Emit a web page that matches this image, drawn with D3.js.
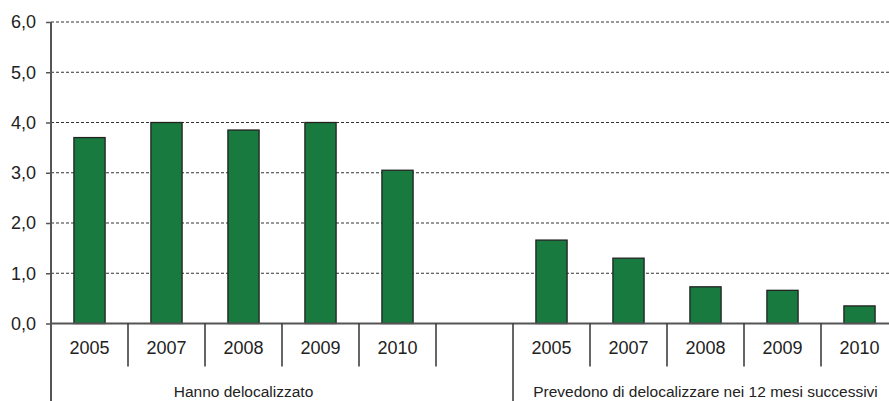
<!DOCTYPE html>
<html><head><meta charset="utf-8">
<script src="https://cdn.jsdelivr.net/npm/d3@7/dist/d3.min.js"></script>
<style>
html,body{margin:0;padding:0;background:#fff;}
svg{display:block;font-family:"Liberation Sans",Arial,sans-serif;}
</style></head>
<body><svg id="c" width="889" height="401"></svg>
<script>
const years = ["2005","2007","2008","2009","2010"];
const groups = ["Hanno delocalizzato","Prevedono di delocalizzare nei 12 mesi successivi"];
const hanno = [3.7, 4.0, 3.85, 4.0, 3.05];
const prevedono = [1.66, 1.30, 0.73, 0.66, 0.35];
const yTicks = [0, 1, 2, 3, 4, 5, 6];

const slots = [];
years.forEach((y,i)=>slots.push({key:"a"+y, year:y, v:hanno[i], g:0}));
slots.push({key:"gap", year:"", v:null, g:-1});
years.forEach((y,i)=>slots.push({key:"b"+y, year:y, v:prevedono[i], g:1}));

const svg = d3.select("#c");
const W = 889, H = 401;
const mLeft = 51, mTop = 22, zeroY = 323.5, slotW = 77;
const FONT = "'Liberation Sans', Arial, sans-serif";
const x = d3.scaleBand().domain(slots.map(d=>d.key)).range([mLeft, mLeft + slotW*slots.length]).padding(0);
const y = d3.scaleLinear().domain([0,6]).range([zeroY, mTop]);

// gridlines
svg.append("g").selectAll("line").data(yTicks.filter(t=>t>0)).join("line")
  .attr("x1", mLeft).attr("x2", W)
  .attr("y1", d=>y(d)).attr("y2", d=>y(d))
  .attr("stroke", "#333").attr("stroke-width", 1).attr("stroke-dasharray", "3,2");

// bars
const bw = x.bandwidth()*0.405;
svg.append("g").selectAll("rect").data(slots.filter(d=>d.v!==null)).join("rect")
  .attr("x", d=>x(d.key)+x.bandwidth()/2-bw/2)
  .attr("width", bw)
  .attr("y", d=>y(d.v))
  .attr("height", d=>y(0)-y(d.v))
  .attr("fill", "#187a3f").attr("stroke", "#222").attr("stroke-width", 1.3);

// y axis
const yAxis = d3.axisLeft(y).tickValues(yTicks).tickSize(5).tickPadding(10)
  .tickFormat(d=>d3.format(".1f")(d).replace(".", ","));
const ya = svg.append("g").attr("transform", `translate(${mLeft},0)`).call(yAxis);
ya.select(".domain").remove();
ya.selectAll(".tick line").attr("stroke", "#555").attr("stroke-width", 1.5);
ya.selectAll(".tick text").attr("fill", "#222").style("font-size", "18px").attr("font-family", FONT);
svg.append("line").attr("x1", mLeft).attr("x2", mLeft).attr("y1", mTop).attr("y2", H)
  .attr("stroke", "#555").attr("stroke-width", 2);

// zero line
svg.append("line").attr("x1", mLeft).attr("x2", W).attr("y1", y(0)).attr("y2", y(0))
  .attr("stroke", "#555").attr("stroke-width", 2);

// category separators
const sepData = slots.map((d,i)=>({i, x:x(d.key)})).filter(d=>d.i>0);
svg.append("g").selectAll("line").data(sepData).join("line")
  .attr("x1", d=>d.x).attr("x2", d=>d.x)
  .attr("y1", y(0)).attr("y2", d=> slots[d.i].key==="b2005" ? H : y(0)+43)
  .attr("stroke", "#333").attr("stroke-width", 1.5);

// year labels
svg.append("g").selectAll("text").data(slots.filter(d=>d.year)).join("text")
  .attr("x", d=>x(d.key)+x.bandwidth()/2).attr("y", 354)
  .attr("text-anchor", "middle").attr("fill", "#222").style("font-size", "18px")
  .attr("font-family", FONT)
  .text(d=>d.year);

// group labels
const gStart = [x("a2005"), x("b2005")];
const gEnd = [x("gap")+x.bandwidth(), x("b2010")+x.bandwidth()];
svg.append("g").selectAll("text").data(groups).join("text")
  .attr("x", (d,i)=> i===0 ? (gStart[0]+x("a2010")+x.bandwidth())/2 : (gStart[1]+gEnd[1])/2)
  .attr("y", 397)
  .attr("text-anchor", "middle").attr("fill", "#222").style("font-size", "15.5px")
  .attr("font-family", FONT)
  .text(d=>d);
</script></body></html>
